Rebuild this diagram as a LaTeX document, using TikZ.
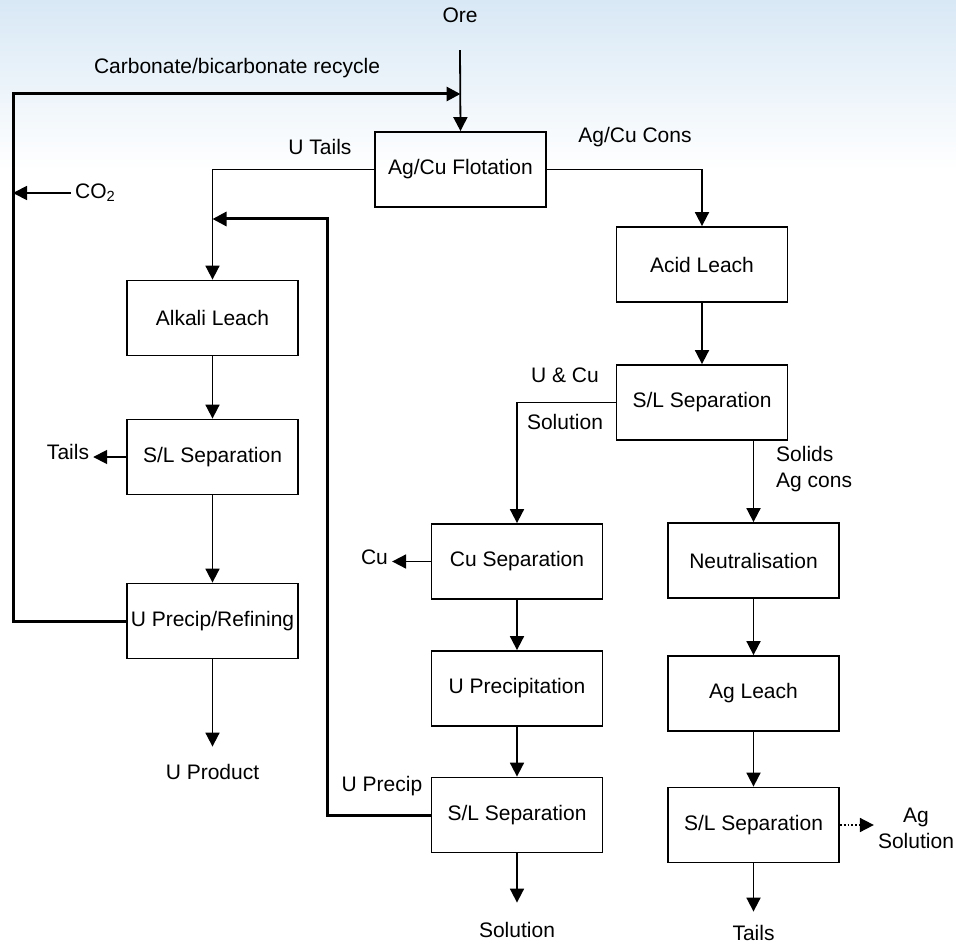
\documentclass[tikz,border=0pt]{standalone}
\usepackage{fontspec}
\setmainfont{Liberation Sans}
\usetikzlibrary{arrows.meta,positioning}
\definecolor{skyblue}{RGB}{216,232,245}

\begin{document}
\begin{tikzpicture}[x=1pt,y=-1pt,
  pbox/.style={rectangle,draw,line width=1.8pt,minimum width=171pt,minimum height=75pt,
               inner sep=0pt,font=\fontsize{21}{26}\selectfont},
  lbl/.style={inner sep=4pt,font=\fontsize{21}{26}\selectfont,align=center},
  arrow/.style={-{Triangle[length=14pt,width=14pt]},line width=1.8pt},
  loopline/.style={line width=3pt}]
\useasboundingbox (0,0) rectangle (956,944);
\fill[top color=skyblue,bottom color=white] (0,0) rectangle (956,170);
\node[pbox] (flot)  at (460.5,169.5) {Ag/Cu Flotation};
\node[pbox] (acid)  at (702,264.5)   {Acid Leach};
\node[pbox] (slr)   at (702,402.5)   {S/L Separation};
\node[pbox] (neut)  at (753.5,560.5) {Neutralisation};
\node[pbox] (agl)   at (753.5,693.5) {Ag Leach};
\node[pbox] (slag)  at (753.5,825)   {S/L Separation};
\node[pbox] (cusep) at (517,561.5)   {Cu Separation};
\node[pbox] (uppt)  at (517,688.5)   {U Precipitation};
\node[pbox] (slu)   at (517,815)     {S/L Separation};
\node[pbox] (alk)   at (212.5,318)   {Alkali Leach};
\node[pbox] (slalk) at (212.5,457)   {S/L Separation};
\node[pbox] (uref)  at (212.5,621)   {U Precip/Refining};
\node[lbl] (ore)      at (460,15)  {Ore};
\node[lbl] (recyctxt) at (237,68)  {Carbonate/bicarbonate recycle};
\node[lbl,anchor=west] (co2) at (71,193) {CO\textsubscript{2}};
\node[lbl] (utails)   at (320,147) {U Tails};
\node[lbl] (cons)     at (635,137) {Ag/Cu Cons};
\node[lbl] (ucu)      at (565,375) {U \& Cu};
\node[lbl] (usol)     at (565,422) {Solution};
\node[lbl,anchor=west,align=left] (solids) at (772,469) {Solids\\Ag cons};
\node[lbl] (tailsl)   at (68,452)  {Tails};
\node[lbl] (cu)       at (374.5,557) {Cu};
\node[lbl] (uprod)    at (212.5,772) {U Product};
\node[lbl] (uprecip)  at (382,786) {U Precip};
\node[lbl] (solution) at (517,930) {Solution};
\node[lbl,inner sep=1pt] (tailsr) at (753.5,933) {Tails};
\node[lbl] (agsol)    at (916,828) {Ag\\Solution};
\coordinate (recyc) at (13,94);
\coordinate (uloop) at (327,219);
\draw[arrow] ([yshift=-23.5pt]ore.south) -- (flot.north);
\draw[arrow] (flot.east) -| (acid.north);
\draw[arrow] (flot.west) -| (alk.north);
\draw[arrow] (acid) -- (slr);
\draw[arrow] (slr.west) -| (cusep.north);
\draw[arrow] (neut.north |- slr.south) -- (neut.north);
\draw[arrow] (neut) -- (agl);
\draw[arrow] (agl) -- (slag);
\draw[arrow] (slag.south) -- ([yshift=12.5pt]tailsr.north);
\draw[arrow,dotted] (slag.east) -- (slag.east -| agsol.west);
\draw[arrow] (cusep) -- (uppt);
\draw[arrow] (uppt) -- (slu);
\draw[arrow] (slu.south) -- ([yshift=15.5pt]solution.north);
\draw[arrow] (cusep.west) -- (cusep.west -| cu.east);
\draw[arrow] (alk) -- (slalk);
\draw[arrow] (slalk) -- (uref);
\draw[arrow] (slalk.west) -- (slalk.west -| tailsl.east);
\draw[arrow] (uref.south) -- ([yshift=13.5pt]uprod.north);
\draw[arrow,loopline] (uref.west) -| (recyc) -- (flot.north |- recyc);
\draw[arrow] (co2.west) -- (co2.west -| recyc);
\draw[arrow,loopline] (slu.west) -| (uloop) -- (uloop -| alk.north);
\end{tikzpicture}
\end{document}
